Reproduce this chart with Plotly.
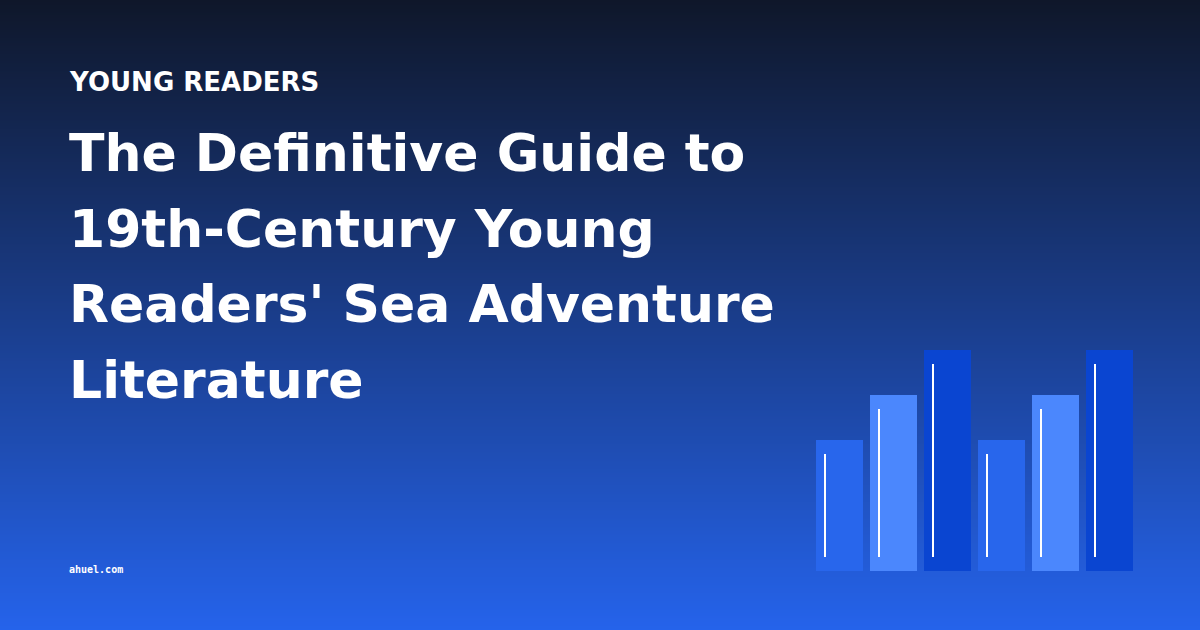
import plotly.graph_objects as go

# --- data ---
kicker = "YOUNG READERS"
title_lines = [
    "The Definitive Guide to",
    "19th-Century Young",
    "Readers' Sea Adventure",
    "Literature",
]
site = "ahuel.com"

bar_names = ["a1", "a2", "a3", "b1", "b2", "b3"]
bar_values = [131, 176, 221, 131, 176, 221]

# --- style ---
W, H = 1200, 630
bg_bottom, bg_top = "#2563eb", "#0f172a"
bar_colors = ["#2866ec", "#4b87fd", "#0a45d1"] * 2
bar_base = 59
bar_width = 47
bar_x0 = 839.5
bar_step = 54
bar_x = [bar_x0 + i * bar_step for i in range(len(bar_values))]

fig = go.Figure()

# background gradient (two-row heatmap, smoothed)
fig.add_trace(go.Heatmap(
    x=[0, W], y=[0, H], z=[[1, 1], [0, 0]],
    zsmooth="best", showscale=False,
    colorscale=[[0, bg_top], [1, bg_bottom]],
    hoverinfo="skip"))

fig.add_trace(go.Bar(
    x=bar_x, y=bar_values, base=bar_base, width=bar_width,
    marker=dict(color=bar_colors, line=dict(width=0)),
    hovertext=bar_names, showlegend=False))

# thin white strokes inside the bars
lx, ly = [], []
for cx, v in zip(bar_x, bar_values):
    lx += [cx - 14.5, cx - 14.5, None]
    ly += [bar_base + 14, bar_base + v - 14, None]
fig.add_trace(go.Scatter(x=lx, y=ly, mode="lines",
                         line=dict(color="white", width=2),
                         hoverinfo="skip", showlegend=False))

def py(v):
    return 1 - v / H

ann = [dict(text="<b>%s</b>" % kicker, x=67 / W, y=py(82), xanchor="left",
            yanchor="middle",
            font=dict(family="DejaVu Sans", size=26, color="white"),
            showarrow=False, xref="paper", yref="paper")]
for i, line in enumerate(title_lines):
    ann.append(dict(text="<b>%s</b>" % line, x=67 / W, y=py(153 + i * 75.5),
                    xanchor="left", yanchor="middle",
                    font=dict(family="DejaVu Sans", size=52, color="white"),
                    showarrow=False, xref="paper", yref="paper"))
ann.append(dict(text="<b>%s</b>" % site, x=67 / W, y=py(569), xanchor="left",
                yanchor="middle",
                font=dict(family="DejaVu Sans Mono", size=10, color="white"),
                showarrow=False, xref="paper", yref="paper"))

fig.update_layout(
    width=W, height=H,
    margin=dict(l=0, r=0, t=0, b=0),
    paper_bgcolor=bg_top, plot_bgcolor="rgba(0,0,0,0)",
    xaxis=dict(range=[0, W], visible=False, fixedrange=True),
    yaxis=dict(range=[0, H], visible=False, fixedrange=True),
    annotations=ann,
    bargap=0,
)

fig.write_html("out.html", config={"displayModeBar": False},
               post_script="document.body.style.margin='0';")
